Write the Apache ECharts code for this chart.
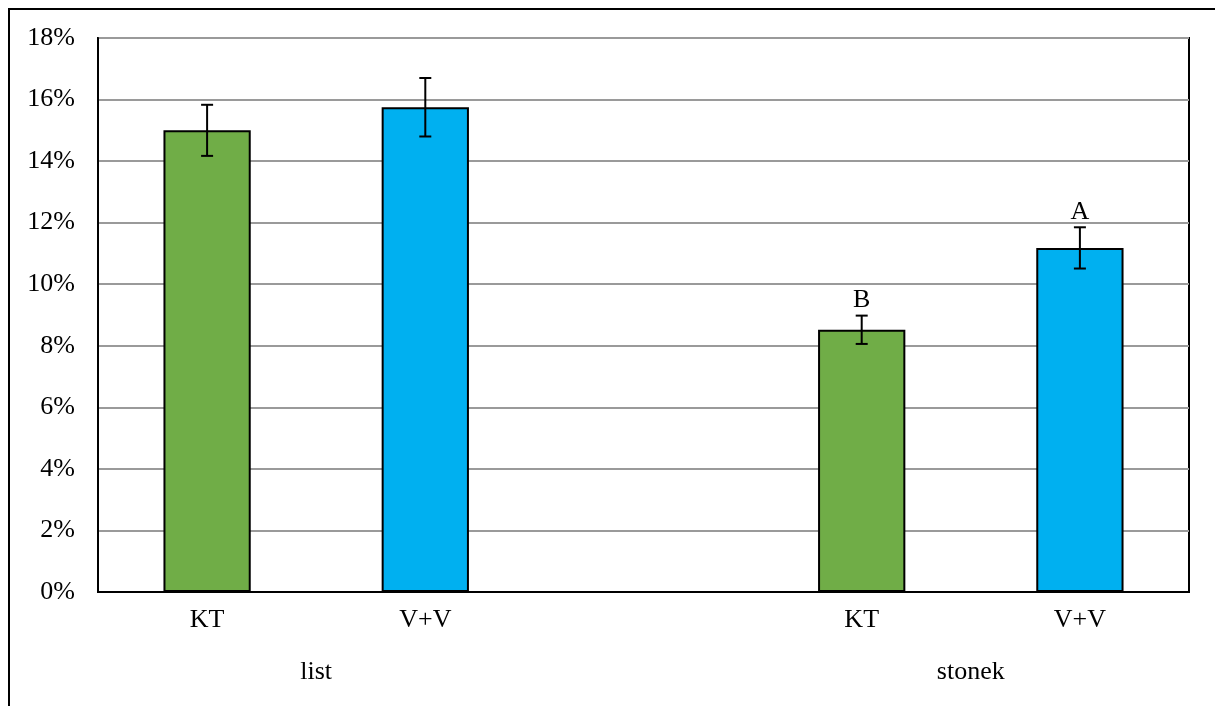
<!DOCTYPE html>
<html>
<head>
<meta charset="utf-8">
<script src="https://cdn.jsdelivr.net/npm/echarts@6/dist/echarts.min.js"></script>
<style>
html,body{margin:0;padding:0;background:#fff;}
#chart{width:1215px;height:706px;}
</style>
</head>
<body>
<div id="chart"></div>
<script>
// ---- data ----
const groups = ['list', 'stonek'];
const treatments = ['KT', 'V+V'];
const categories = ['KT', 'V+V', '', 'KT', 'V+V']; // empty slot separates groups
const ktValues = [15.0, 8.52];      // % (list, stonek)
const vvValues = [15.75, 11.18];    // %
const ktErrors = [0.83, 0.46];
const vvErrors = [0.95, 0.67];
const ktLetters = ['', 'B'];
const vvLetters = ['', 'A'];
const yTicks = [0, 2, 4, 6, 8, 10, 12, 14, 16, 18];

// slot indices for each group's bars
const ktSlots = [0, 3];
const vvSlots = [1, 4];

const ktData = categories.map(() => null);
const vvData = categories.map(() => null);
ktSlots.forEach((s, i) => { ktData[s] = ktValues[i]; });
vvSlots.forEach((s, i) => { vvData[s] = vvValues[i]; });

const errData = [];
ktSlots.forEach((s, i) => errData.push([s, ktValues[i], ktErrors[i], ktLetters[i]]));
vvSlots.forEach((s, i) => errData.push([s, vvValues[i], vvErrors[i], vvLetters[i]]));

const FONT = '"Liberation Serif", "Times New Roman", serif';

const chart = echarts.init(document.getElementById('chart'), null, {renderer: 'canvas'});

const option = {
  backgroundColor: '#ffffff',
  animation: false,
  grid: {
    left: 98, top: 38, right: 26, bottom: 114,
    show: true, borderColor: '#000', borderWidth: 2, backgroundColor: 'transparent'
  },
  xAxis: {
    type: 'category',
    data: categories,
    axisLine: {show: true, lineStyle: {color: '#000', width: 2}},
    axisTick: {show: false},
    axisLabel: {color: '#000', fontFamily: FONT, fontSize: 26, margin: 15, interval: 0}
  },
  yAxis: {
    type: 'value',
    min: yTicks[0], max: yTicks[yTicks.length - 1], interval: yTicks[1] - yTicks[0],
    axisLine: {show: true, lineStyle: {color: '#000', width: 2}},
    axisTick: {show: false},
    axisLabel: {color: '#000', fontFamily: FONT, fontSize: 26, margin: 23, formatter: '{value}%'},
    splitLine: {show: true, lineStyle: {color: '#9a9a9a', width: 2}}
  },
  series: [
    {
      type: 'bar', name: 'KT', data: ktData, barWidth: '40%', barGap: '-100%',
      itemStyle: {color: '#70AD47', borderColor: '#000', borderWidth: 2}
    },
    {
      type: 'bar', name: 'V+V', data: vvData, barWidth: '40%', barGap: '-100%',
      itemStyle: {color: '#00B0F0', borderColor: '#000', borderWidth: 2}
    },
    {
      type: 'custom',
      data: errData,
      z: 10,
      renderItem: function (params, api) {
        const x = api.value(0), m = api.value(1), e = api.value(2);
        const letter = errData[params.dataIndex][3];
        const top = api.coord([x, m + e]);
        const bot = api.coord([x, m - e]);
        const half = 6;
        const style = {stroke: '#000', lineWidth: 2};
        const children = [
          {type: 'line', shape: {x1: top[0], y1: top[1], x2: bot[0], y2: bot[1]}, style: style},
          {type: 'line', shape: {x1: top[0] - half, y1: top[1], x2: top[0] + half, y2: top[1]}, style: style},
          {type: 'line', shape: {x1: bot[0] - half, y1: bot[1], x2: bot[0] + half, y2: bot[1]}, style: style}
        ];
        if (letter) {
          children.push({
            type: 'text',
            style: {text: letter, x: top[0], y: top[1] - 2, align: 'center', verticalAlign: 'bottom',
                    fill: '#000', font: '26px ' + FONT}
          });
        }
        return {type: 'group', children: children};
      }
    }
  ]
};
chart.setOption(option);

// group labels (second category level), centred under each group's slots
const groupSlots = [[ktSlots[0], vvSlots[0]], [ktSlots[1], vvSlots[1]]];
const graphics = [{
  type: 'rect', shape: {x: 9, y: 9, width: 1230, height: 720},
  style: {fill: 'none', stroke: '#000', lineWidth: 2}, silent: true, z: 0
}];
groups.forEach((g, i) => {
  const a = chart.convertToPixel({xAxisIndex: 0}, groupSlots[i][0]);
  const b = chart.convertToPixel({xAxisIndex: 0}, groupSlots[i][1]);
  graphics.push({
    type: 'text', x: (a + b) / 2, y: 672,
    style: {text: g, align: 'center', verticalAlign: 'middle', fill: '#000', font: '26px ' + FONT}
  });
});
chart.setOption({graphic: graphics});
</script>
</body>
</html>
